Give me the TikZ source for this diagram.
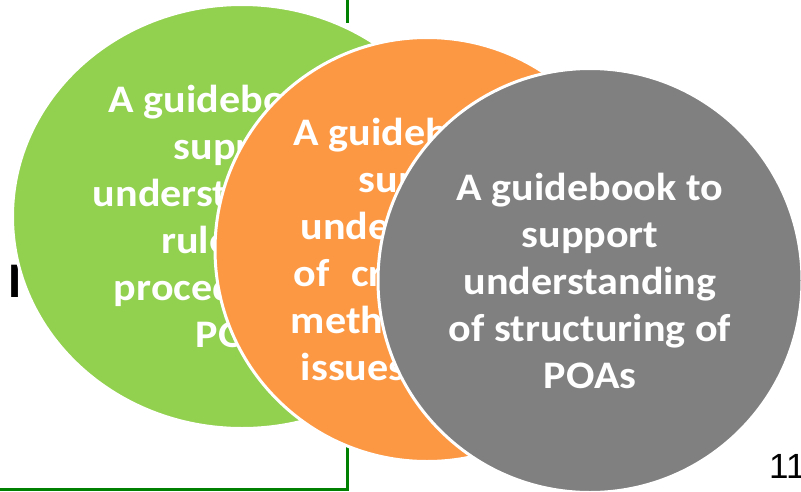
\documentclass[tikz,border=0pt]{standalone}
\usepackage{fontspec}
\setmainfont{Carlito}[FakeStretch=1.08]
\newfontfamily\arialfont{Liberation Sans}
\usetikzlibrary{shapes.geometric}

\definecolor{guidegreen}{RGB}{146,208,80}
\definecolor{guideorange}{RGB}{252,152,68}
\definecolor{guidegray}{RGB}{128,128,128}
\definecolor{framegreen}{RGB}{0,128,0}

\begin{document}
\begin{tikzpicture}[x=1pt,y=-1pt]

	\tikzset{guide/.style={
				ellipse,draw=white,line width=3pt,inner sep=0pt,
				text=white,align=center,
				font=\bfseries\fontsize{39}{47}\selectfont}
	}
	\tikzset{frame line/.style={draw=framegreen,line width=3pt}}

	\useasboundingbox (0,0) rectangle (801,491);
	\clip (0,0) rectangle (801,491);

	% frame behind the circles
	\coordinate (ftop) at (347,-2);
	\coordinate (ftopend) at (347,23);
	\coordinate (fbot) at (347,447);
	\coordinate (fcorner) at (347,489);
	\coordinate (fleft) at (-2,489);
	\draw[frame line] (ftop) -- (ftopend);
	\draw[frame line] (fbot) -- (fcorner) -- (fleft);

	\node[anchor=base west,inner sep=0pt,font=\arialfont\bfseries\fontsize{47}{47}\selectfont] (title) at (8,297) {I};

	\node[guide,fill=guidegreen,minimum width=459pt,minimum height=424pt] (rules) at (242,216.5)
		{A guidebook to\\support\\understanding of\\rules and\\procedures for\\POAs};

	\node[guide,fill=guideorange,minimum width=424pt,minimum height=424pt] (methods) at (427,249.5)
		{A guidebook to\\support\\understanding\\of\hspace{0.55em}crosscutting\\methodological\\issues of POAs};

	\node[guide,fill=guidegray,minimum width=424pt,minimum height=424pt] (structure) at (590,280.5)
		{A guidebook to\\support\\understanding\\of structuring of\\POAs};

	\node[anchor=base west,inner sep=0pt,font=\arialfont\fontsize{35}{35}\selectfont] (page) at (769,478) {11};

\end{tikzpicture}
\end{document}
